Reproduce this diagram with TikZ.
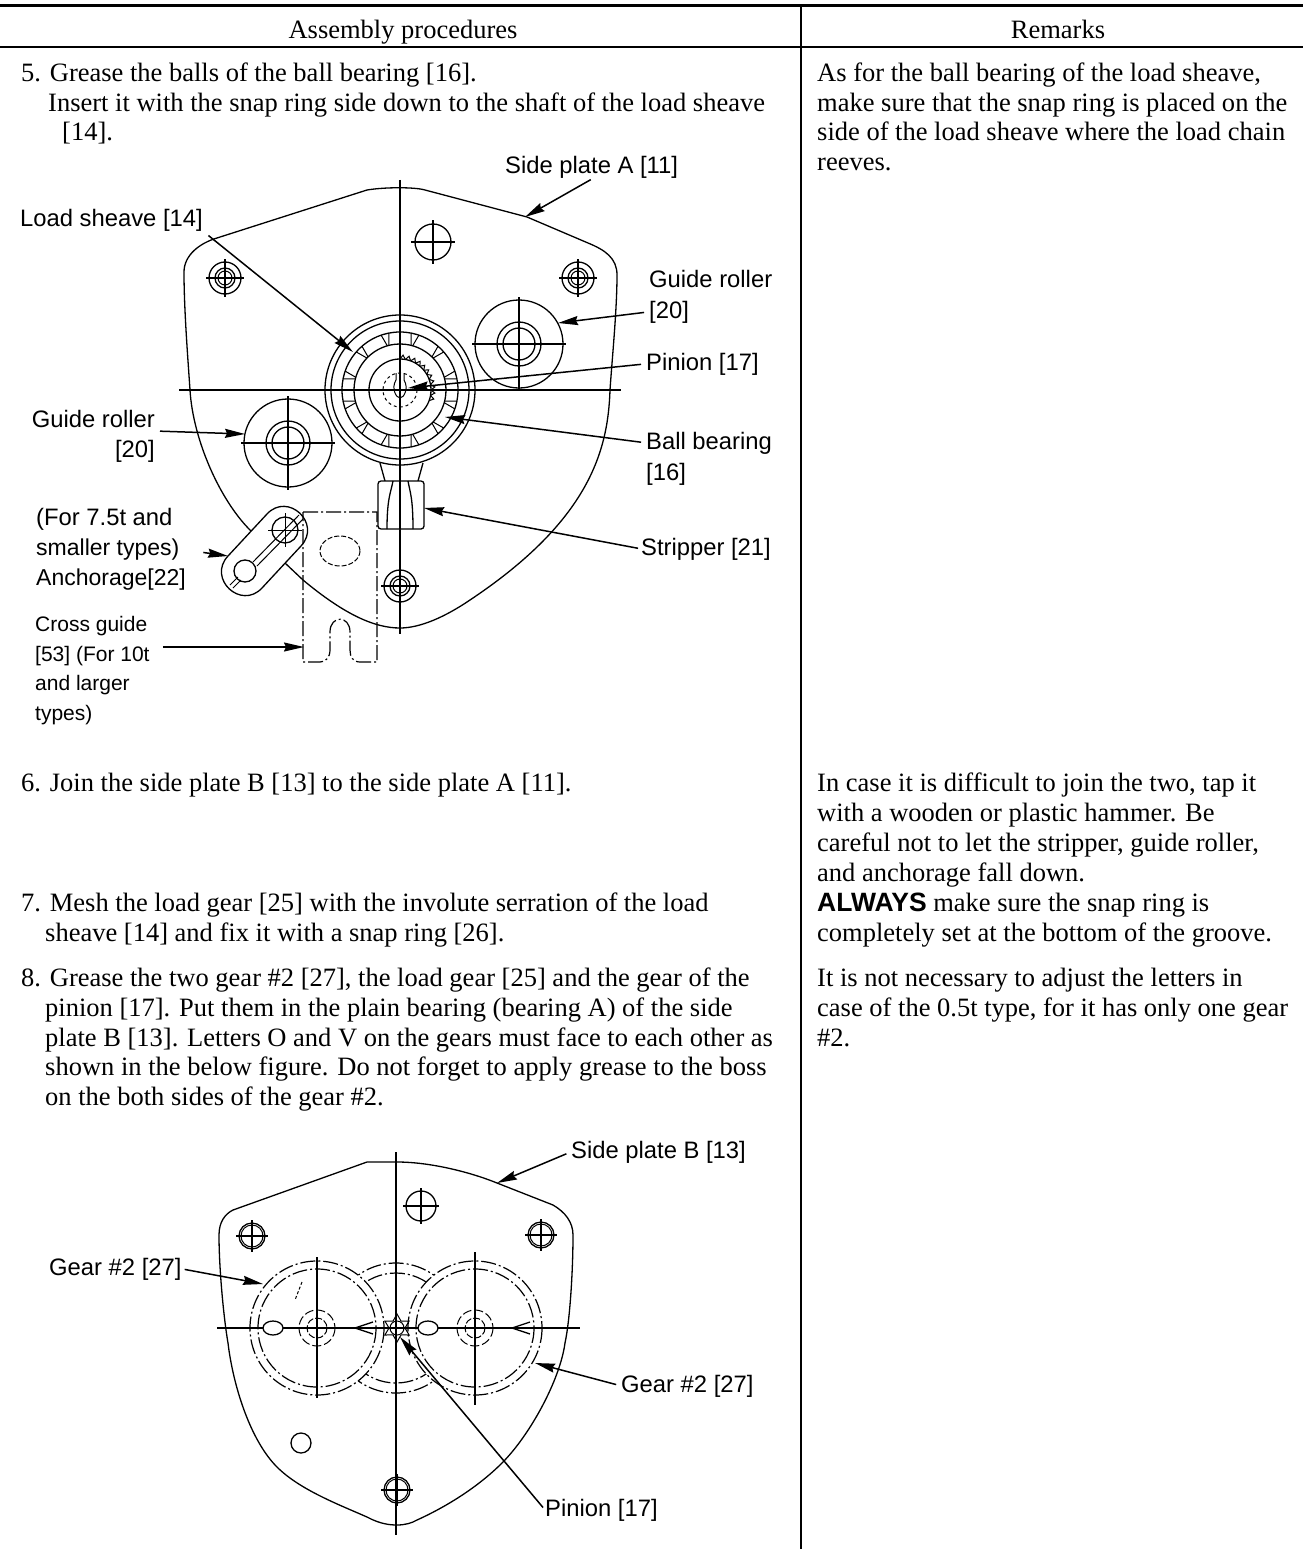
\documentclass[tikz,border=0pt]{standalone}
\usepackage{fontspec}
\setmainfont{Liberation Serif}
\newfontfamily\labelfont{Liberation Sans}
\usetikzlibrary{arrows.meta}

\tikzset{
  body/.style={anchor=base west, inner sep=0pt, font=\fontsize{26.5}{29.7}\selectfont},
  head/.style={anchor=base, inner sep=0pt, font=\fontsize{26.5}{29.7}\selectfont},
  lbl/.style={anchor=base west, inner sep=0pt, font=\labelfont\fontsize{23.8}{29}\selectfont},
  lblr/.style={anchor=base east, inner sep=0pt, font=\labelfont\fontsize{23.8}{29}\selectfont},
  lbls/.style={lbl, font=\labelfont\fontsize{23}{29}\selectfont},
  lblc/.style={lbl, font=\labelfont\fontsize{21}{29}\selectfont},
  part/.style={line width=1.3pt},
  thin part/.style={line width=1pt},
  chain/.style={line width=1.2pt, dash pattern=on 15pt off 3pt on 2pt off 3pt},
  leader/.style={line width=1.5pt, shorten <=5pt, -{Stealth[length=20pt,width=9pt,inset=2pt]}}
}

\begin{document}
\begin{tikzpicture}[x=1pt,y=-1pt]
\useasboundingbox (0,0) rectangle (1303,1549);

\fill[white] (0,0) rectangle (1303,1549);
\fill[black] (0,4) rectangle (1303,7);
\fill[black] (0,46) rectangle (1303,48);
\fill[black] (800,5) rectangle (802,1549);

\node (assembly) at (403,39)[head] {Assembly procedures};
\node (remarks) at (1058,39)[head] {Remarks};

\node (stepfiveA) at (21,81.5)[body] {5. Grease the balls of the ball bearing [16].};
\node (stepfiveB) at (48,111.5)[body] {Insert it with the snap ring side down to the shaft of the load sheave};
\node (stepfiveC) at (62,140.5)[body] {[14].};
\node (stepsix) at (21,791.5)[body] {6. Join the side plate B [13] to the side plate A [11].};
\node (stepsevenA) at (21,911.5)[body] {7. Mesh the load gear [25] with the involute serration of the load};
\node (stepsevenB) at (45,941.5)[body] {sheave [14] and fix it with a snap ring [26].};
\node (stepeightA) at (21,986.5)[body] {8. Grease the two gear \#2 [27], the load gear [25] and the gear of the};
\node (stepeightB) at (45,1016)[body] {pinion [17]. Put them in the plain bearing (bearing A) of the side};
\node (stepeightC) at (45,1046)[body] {plate B [13]. Letters O and V on the gears must face to each other as};
\node (stepeightD) at (45,1075.5)[body] {shown in the below figure. Do not forget to apply grease to the boss};
\node (stepeightE) at (45,1105)[body] {on the both sides of the gear \#2.};

\node (noteaA) at (817,81.5)[body] {As for the ball bearing of the load sheave,};
\node (noteaB) at (817,111.5)[body] {make sure that the snap ring is placed on the};
\node (noteaC) at (817,140.5)[body] {side of the load sheave where the load chain};
\node (noteaD) at (817,170.5)[body] {reeves.};
\node (notebA) at (817,791.5)[body] {In case it is difficult to join the two, tap it};
\node (notebB) at (817,821.5)[body] {with a wooden or plastic hammer. Be};
\node (notebC) at (817,851.5)[body] {careful not to let the stripper, guide roller,};
\node (notebD) at (817,881.5)[body] {and anchorage fall down.};
\node (notebE) at (817,911.5)[body] {{\labelfont\bfseries ALWAYS} make sure the snap ring is};
\node (notebF) at (817,941.5)[body] {completely set at the bottom of the groove.};
\node (notecA) at (817,986.5)[body] {It is not necessary to adjust the letters in};
\node (notecB) at (817,1016)[body] {case of the 0.5t type, for it has only one gear};
\node (notecC) at (817,1046)[body] {\#2.};

% side plate A
\draw[part] (190,390) .. controls (193,440) and (220,500) .. (250,530)
  -- (285,563) -- (303,580) .. controls (345,615) and (375,628) .. (400,628)
  .. controls (420,628) and (445,617) .. (470,600)
  .. controls (590,520) and (608,450) .. (610,390)
  .. controls (612,360) and (617,310) .. (617,275)
  .. controls (617,258) and (605,250) .. (588,243)
  -- (527,217) -- (425,190) .. controls (415,187) and (385,187) .. (367,190)
  -- (217,238) .. controls (200,243) and (184,255) .. (184,272)
  .. controls (184,310) and (188,360) .. (190,390);
\draw[part] (400,180) -- (400,634);
\draw[part] (179,390) -- (621,390);

\draw[part] (433,242) circle[radius=18];
\draw[part] (411,242) -- (455,242);
\draw[part] (433,220) -- (433,264);

\foreach \bx/\by in {225/278, 578/278, 400/586}{
  \draw[part] (\bx,\by) circle[radius=16];
  \draw[part] (\bx,\by) circle[radius=10];
  \draw[thin part] (\bx,\by) circle[radius=7];
  \draw[part] (\bx-19,\by) -- (\bx+19,\by);
  \draw[part] (\bx,\by-19) -- (\bx,\by+19);
}

\foreach \rx/\ry in {519/344, 288/443}{
  \draw[part] (\rx,\ry) circle[radius=44];
  \draw[part] (\rx,\ry) circle[radius=22];
  \draw[part] (\rx,\ry) circle[radius=16];
  \draw[part] (\rx-47,\ry) -- (\rx+47,\ry);
  \draw[part] (\rx,\ry-47) -- (\rx,\ry+47);
}

\begin{scope}[shift={(400,390)}]
\foreach \rad in {75,69,58,46,31}{
  \draw[part] (0,0) circle[radius=\rad];
}
\foreach \ang in {15,45,...,345}{
  \draw[thin part] (\ang-4:58) -- (\ang-1:46);
  \draw[thin part] (\ang+4:58) -- (\ang+1:46);
}
\foreach \ang in {-90,-80,...,10}{
  \draw[thin part] (\ang:31) -- (\ang+5:35) -- (\ang+10:31);
}
\draw[thin part,dashed] (0,0) circle[radius=17];
\draw[thin part] (-4,-17) -- (-4,-10) .. controls (-9,-2) and (-4,8) .. (0,8)
  .. controls (4,8) and (9,-2) .. (4,-10) -- (4,-17);
\end{scope}

\draw[part] (380,463) -- (385,481);
\draw[part] (423,463) -- (418,481);
\draw[part,fill=white,rounded corners=3pt] (378,481) rectangle (424,529);
\draw[part] (393,481) .. controls (391,492) and (387,498) .. (387,529);
\draw[part] (408,481) .. controls (410,492) and (413,498) .. (413,529);
\draw[part] (400,481) -- (400,529);

% anchorage and cross guide
\draw[part,fill=white] (267,514) .. controls (288,491.5) and (322,523.5) .. (301,546)
  -- (262,588) .. controls (241,610.5) and (207,578.5) .. (228,556) -- cycle;
\draw[part] (285,530) circle[radius=13];
\draw[part] (245,571) circle[radius=11];
\draw[thin part] (299,515) -- (253,562);
\draw[thin part] (303,519) -- (257,566);
\draw[thin part] (230,585) -- (238,577);
\draw[thin part] (233,588) -- (241,580);
\draw[thin part] (268,530) -- (302,530);
\draw[thin part] (285,513) -- (285,547);
\draw[chain] (303,512) -- (377,512) -- (377,662) -- (360,662)
  .. controls (353,662) and (350,657) .. (350,650) -- (350,632)
  .. controls (350,615) and (330,615) .. (330,632) -- (330,650)
  .. controls (330,658) and (325,662) .. (320,662) -- (303,662) -- cycle;
\draw[thin part,dash pattern=on 5pt off 2pt] (340,551) ellipse[x radius=20,y radius=15];

% labels of side plate A
\node (sidea) at (505,174)[lbl] {Side plate A [11]};
\node (sheave) at (20,226)[lbl] {Load sheave [14]};
\node (rollerAa) at (649,287)[lbl] {Guide roller};
\node (rollerAb) at (649,318)[lbl] {[20]};
\node (pinionA) at (646,370)[lbl] {Pinion [17]};
\node (ballA) at (646,449)[lbl] {Ball bearing};
\node (ballB) at (646,480)[lbl] {[16]};
\node (rollerBa) at (155,427)[lblr] {Guide roller};
\node (rollerBb) at (155,457)[lblr] {[20]};
\node (stripper) at (641,555)[lbl] {Stripper [21]};
\node (anchorA) at (36,525)[lbl] {(For 7.5t and};
\node (anchorB) at (36,555)[lbls] {smaller types)};
\node (anchorC) at (36,585)[lbls] {Anchorage[22]};
\node (crossA) at (35,631)[lblc] {Cross guide};
\node (crossB) at (35,661)[lblc] {[53] (For 10t};
\node (crossC) at (35,690)[lblc] {and larger};
\node (crossD) at (35,720)[lblc] {types)};

\coordinate (sideatip) at (525,217);
\coordinate (sheavetip) at (353,352);
\coordinate (rolleratip) at (558,323);
\coordinate (pinionatip) at (408,388);
\coordinate (balltip) at (445,417);
\coordinate (rollerbtip) at (245,434);
\coordinate (rollerbfoot) at (155,431);
\coordinate (strippertip) at (424,508);
\coordinate (anchortip) at (228,556);
\coordinate (crosstip) at (304,647);

\draw[leader,shorten <=1pt] (sidea.south) -- (sideatip);
\draw[leader,shorten <=7pt] (sheave.south east) -- (sheavetip);
\draw[leader] (rollerAb.west) -- (rolleratip);
\draw[leader] (pinionA.west) -- (pinionatip);
\draw[leader] (ballA.west) -- (balltip);
\draw[leader] (rollerbfoot) -- (rollerbtip);
\draw[leader,shorten <=3pt] (stripper.west) -- (strippertip);
\draw[leader,shorten <=24pt] (anchorB.east) -- (anchortip);
\draw[leader,shorten <=13pt] (crossB.east |- crosstip) -- (crosstip);

% side plate B
\draw[part] (233,1210) .. controls (225,1214) and (219,1222) .. (219,1235)
  .. controls (219,1270) and (224,1320) .. (228,1343)
  .. controls (233,1385) and (250,1440) .. (277,1467)
  .. controls (300,1490) and (340,1505) .. (367,1517)
  .. controls (380,1524) and (390,1525) .. (397,1525)
  .. controls (405,1525) and (412,1523) .. (417,1520)
  .. controls (450,1505) and (480,1485) .. (502,1463)
  .. controls (530,1435) and (560,1380) .. (565,1343)
  .. controls (570,1320) and (573,1270) .. (573,1235)
  .. controls (573,1222) and (565,1212) .. (553,1205)
  -- (497,1183) .. controls (470,1172) and (430,1162) .. (397,1162)
  -- (367,1162) -- cycle;

\draw[chain] (396,1328) circle[radius=65];
\draw[chain] (396,1328) circle[radius=55];
\foreach \gx in {317,475}{
  \draw[chain,fill=white] (\gx,1328) circle[radius=67];
  \draw[chain] (\gx,1328) circle[radius=59];
  \draw[thin part,dash pattern=on 9pt off 3pt] (\gx,1328) circle[radius=18];
  \draw[thin part,dash pattern=on 7pt off 2pt] (\gx,1328) circle[radius=10];
}

\draw[part] (396,1152) -- (396,1535);
\draw[part] (217,1328) -- (580,1328);
\draw[part] (317,1257) -- (317,1398);
\draw[part] (475,1252) -- (475,1405);

\draw[part,fill=white] (273,1328) ellipse[x radius=10,y radius=7];
\draw[part,fill=white] (428,1328) ellipse[x radius=10,y radius=7];
\draw[part] (373,1322) -- (355,1328) -- (373,1334);
\draw[part] (530,1322) -- (512,1328) -- (530,1334);
\draw[thin part,dash pattern=on 3pt off 2pt] (302,1282) -- (295,1300);

\draw[part] (421,1206) circle[radius=15];
\draw[part] (403,1206) -- (439,1206);
\draw[part] (421,1188) -- (421,1224);
\foreach \bx/\by in {252/1236, 541/1235, 397/1490}{
  \draw[part] (\bx,\by) circle[radius=13];
  \draw[thin part] (\bx,\by) circle[radius=11];
  \draw[part] (\bx-16,\by) -- (\bx+16,\by);
  \draw[part] (\bx,\by-16) -- (\bx,\by+16);
}
\draw[part] (301,1443) circle[radius=10];

\begin{scope}[shift={(397,1328)}]
\draw[thin part] (0,0) circle[radius=7];
\foreach \ang in {0,60,...,300}{
  \draw[thin part] (\ang:8) -- (\ang+30:14) -- (\ang+60:8);
}
\end{scope}

\node (sideb) at (571,1158)[lbl] {Side plate B [13]};
\node (gearA) at (49,1275)[lbl] {Gear \#2 [27]};
\node (gearB) at (621,1392)[lbl] {Gear \#2 [27]};
\node (pinionB) at (545,1516)[lbl] {Pinion [17]};

\coordinate (sidebtip) at (497,1183);
\coordinate (gearatip) at (263,1284);
\coordinate (gearbtip) at (535,1363);
\coordinate (pinionbtip) at (400,1337);

\draw[leader] (sideb.west) -- (sidebtip);
\draw[leader,shorten <=3pt] (gearA.east) -- (gearatip);
\draw[leader] (gearB.west) -- (gearbtip);
\draw[leader,shorten <=3pt] (pinionB.west) -- (pinionbtip);
\end{tikzpicture}
\end{document}
